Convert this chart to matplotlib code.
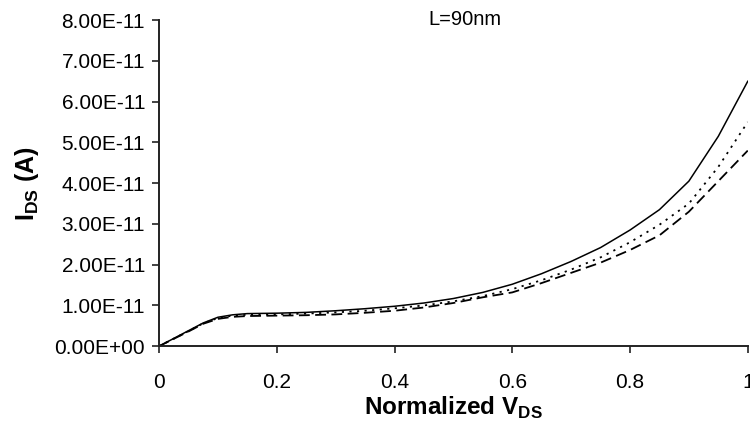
import matplotlib
matplotlib.use("Agg")
import matplotlib.pyplot as plt
from matplotlib.ticker import FuncFormatter

plt.rcParams['font.family'] = ['Liberation Sans', 'DejaVu Sans']
plt.rcParams['mathtext.fontset'] = 'custom'
plt.rcParams['mathtext.rm'] = 'Liberation Sans'
plt.rcParams['mathtext.bf'] = 'Liberation Sans:bold'

vds = [0, 0.05, 0.075, 0.1, 0.125, 0.15, 0.2, 0.25, 0.3, 0.35, 0.4, 0.45, 0.5, 0.55,
       0.6, 0.65, 0.7, 0.75, 0.8, 0.85, 0.9, 0.95, 1.0]
ids_solid = [0, 0.38, 0.57, 0.71, 0.77, 0.80, 0.81, 0.83, 0.87, 0.92, 0.98, 1.06, 1.17, 1.32,
             1.52, 1.78, 2.08, 2.42, 2.85, 3.35, 4.05, 5.15, 6.5]
ids_dotted = [0, 0.37, 0.56, 0.69, 0.75, 0.77, 0.78, 0.80, 0.83, 0.87, 0.93, 1.00, 1.10, 1.23,
              1.40, 1.62, 1.88, 2.18, 2.55, 2.98, 3.50, 4.40, 5.5]
ids_dashed = [0, 0.36, 0.55, 0.67, 0.72, 0.74, 0.75, 0.76, 0.78, 0.82, 0.87, 0.95, 1.06, 1.20,
              1.32, 1.55, 1.80, 2.05, 2.36, 2.72, 3.30, 4.05, 4.8]
scale = 1e-11
yticks = [i * 1e-11 for i in range(9)]
xticks = [0, 0.2, 0.4, 0.6, 0.8, 1.0]
xticklabels = ['0', '0.2', '0.4', '0.6', '0.8', '1']

fig = plt.figure(figsize=(7.5, 4.29), dpi=100)
ax = fig.add_axes([0.212, 0.193, 0.785, 0.760])

ax.plot(vds, [v * scale for v in ids_solid], color='black', lw=1.1, ls='-')
ax.plot(vds, [v * scale for v in ids_dotted], color='black', lw=1.3, ls=(0, (1.2, 3)))
ax.plot(vds, [v * scale for v in ids_dashed], color='black', lw=1.3, ls=(0, (6, 3)))

ax.set_xlim(0, 1)
ax.set_ylim(0, 8e-11)
ax.set_xticks(xticks)
ax.set_xticklabels(xticklabels)
ax.set_yticks(yticks)
ax.yaxis.set_major_formatter(FuncFormatter(lambda v, p: '{:.2E}'.format(v)))
ax.tick_params(direction='out', length=5, width=1.2, labelsize=15, pad=5, color='#222222')
ax.tick_params(axis='x', pad=14)
for s in ['top', 'right']:
    ax.spines[s].set_visible(False)
for s in ['left', 'bottom']:
    ax.spines[s].set_linewidth(1.4)
    ax.spines[s].set_color('#222222')

ax.set_xlabel(r'Normalized V$_{\mathbf{DS}}$', fontsize=17.5, fontweight='bold', labelpad=2)
ax.set_ylabel(r'I$_{\mathbf{DS}}$ (A)', fontsize=18, fontweight='bold', labelpad=10)

fig.text(0.62, 0.955, 'L=90nm', fontsize=14.5, ha='center', va='center')

fig.savefig('out.png', dpi=100)
